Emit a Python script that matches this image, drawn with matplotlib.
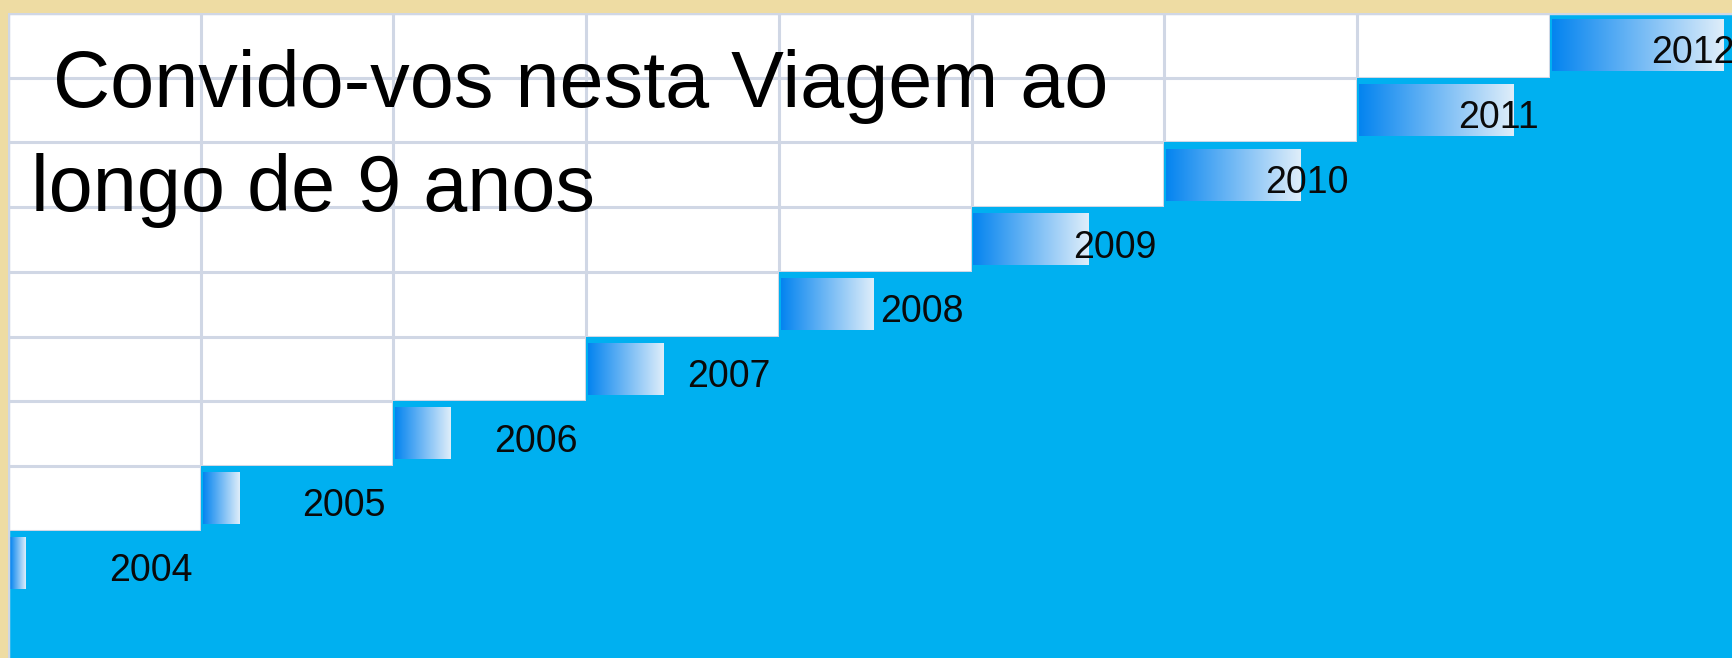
import numpy as np
import matplotlib
matplotlib.use("Agg")
import matplotlib.pyplot as plt

# data
years = [2004, 2005, 2006, 2007, 2008, 2009, 2010, 2011, 2012]
values = [0.08, 0.19, 0.29, 0.39, 0.48, 0.60, 0.70, 0.80, 0.89]  # bar length, in grid columns
title_lines = ["Convido-vos nesta Viagem ao", "longo de 9 anos"]

W, H = 1733, 658
col_px, row_px = 192.7, 64.7
left_px, top_px = 8, 13

blue = "#00B0F0"
grid_c = "#D0D7E5"
beige = "#EEDCA3"

fig = plt.figure(figsize=(W / 100, H / 100), dpi=100, facecolor=beige)
ax = fig.add_axes([left_px / W, 0, 1 - left_px / W, (H - top_px) / H])
ax.set_facecolor("white")

xmax = (W - left_px) / col_px
ymax = (H - top_px) / row_px
ax.set_xlim(0, xmax)
ax.set_ylim(ymax, 0)

# spreadsheet grid
ax.set_xticks(np.arange(0, 10))
ax.set_yticks(np.arange(0, 11))
ax.grid(True, color=grid_c, lw=2.2)
ax.set_axisbelow(True)
ax.tick_params(length=0, labelbottom=False, labelleft=False)
for s in ax.spines.values():
    s.set_visible(False)

n = len(years)
rows = [n - 1 - i for i in range(n)]
cols = list(range(n))

# blue staircase
ax.bar(cols, [ymax - r for r in rows], width=[xmax - c + 1 for c in cols],
       bottom=rows, align="edge", color=blue, lw=0, zorder=2)

# gradient bars
c0 = np.array([0.02, 0.52, 0.94])
c1 = np.array([0.87, 0.93, 0.98])
t = np.linspace(0, 1, 64)
grad = (c0[None, :] * (1 - t[:, None]) + c1[None, :] * t[:, None])[None, :, :]
for c, r, v, yr in zip(cols, rows, values, years):
    ax.imshow(grad, extent=(c + 0.01, c + 0.01 + v, r + 0.9, r + 0.1),
              aspect="auto", interpolation="bilinear", zorder=3)
    ax.text(c + 0.525, r + 0.78, str(yr), fontsize=27, family="Liberation Sans",
            color="#0A0A0A", va="baseline", ha="left", zorder=4, clip_on=False)

ax.set_xlim(0, xmax)
ax.set_ylim(ymax, 0)

# frame lines on top
ax.axvline(0, color=grid_c, lw=2.5, zorder=5)
ax.axhline(0, color=grid_c, lw=2.5, zorder=5)

# title
fig.text(53 / W, 1 - 107 / H, title_lines[0], fontsize=57, family="Liberation Sans",
         color="black", va="baseline", ha="left", zorder=6)
fig.text(31 / W, 1 - 211 / H, title_lines[1], fontsize=57, family="Liberation Sans",
         color="black", va="baseline", ha="left", zorder=6)

fig.savefig("out.png", dpi=100, facecolor=beige)
